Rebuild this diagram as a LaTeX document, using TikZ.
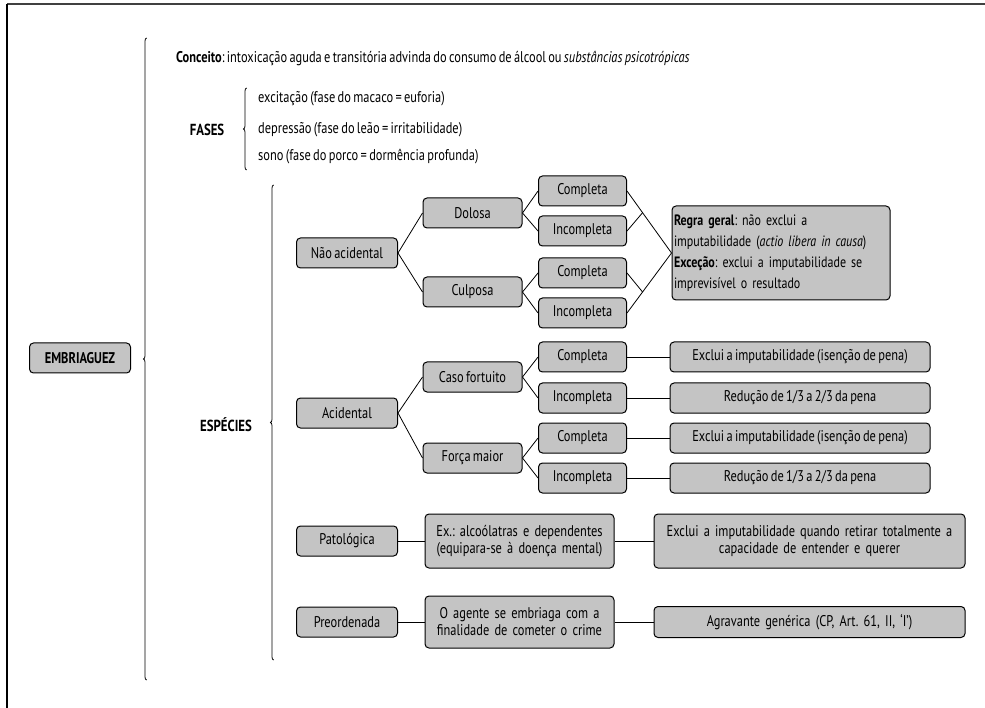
\documentclass[tikz,border=0pt]{standalone}
\usepackage{fontspec}
\setmainfont{PT Sans}[FakeStretch=0.8, WordSpace=0.7]
\usepackage{tikz}
\usetikzlibrary{positioning, calc, decorations.pathreplacing}
\definecolor{boxgray}{HTML}{C4C4C4}
\frenchspacing

\begin{document}
\begin{tikzpicture}[x=1pt, y=-1pt,
  box/.style={draw, line width=1pt, rounded corners=4pt, fill=boxgray, inner sep=2pt,
    minimum height=30pt, font=\fontsize{15.5}{17}\selectfont},
  lvlone/.style={box, minimum width=101pt},
  lvltwo/.style={box, minimum width=99pt},
  lvlthree/.style={box, minimum width=88pt},
  result/.style={box, minimum width=260pt},
  wide/.style={box, text width=#1, align=center},
  plain/.style={font=\fontsize{15.5}{17}\selectfont, inner sep=0pt},
  link/.style={line width=0.8pt},
  curly/.style={line width=0.8pt, decorate, decoration={brace, amplitude=3pt}}]
\useasboundingbox (0,0) rectangle (985,708);
\draw[line width=2pt, black!75] (7,4) -- (985,4);
\draw[line width=2pt] (7,4) -- (7,708);

\node[lvlone, font=\fontsize{15.5}{17}\selectfont\bfseries] (emb) at (80,358) {EMBRIAGUEZ};

\node[plain, anchor=west] (conc) at (176,58) {\textbf{Conceito}: intoxicação aguda e transitória advinda do consumo de álcool ou \textit{substâncias psicotrópicas}};

\node[plain, font=\fontsize{16}{17}\selectfont\bfseries] (fases) at (207,130) {FASES};
\node[plain, anchor=west] (f1) at (258,99) {excitação (fase do macaco = euforia)};
\node[plain, anchor=west] (f2) at (258,130) {depressão (fase do leão = irritabilidade)};
\node[plain, anchor=west] (f3) at (258,157) {sono (fase do porco = dormência profunda)};

\node[plain, font=\fontsize{16}{17}\selectfont\bfseries] (esp) at (226,425) {ESPÉCIES};

\draw[curly] (146.5,680) -- (146.5,38);
\draw[curly] (246.5,170) -- (246.5,88);
\draw[curly] (273.5,660) -- (273.5,185);

\node[lvlone] (nao) at (347,253) {Não acidental};
\node[lvlone] (acid) at (347,413) {Acidental};
\node[lvlone] (pato) at (347,541) {Patológica};
\node[lvlone] (preo) at (347,622) {Preordenada};

\node[lvltwo] (dol) at (472.5,213) {Dolosa};
\node[lvltwo] (cul) at (472.5,292) {Culposa};
\node[lvltwo] (caso) at (472.5,377) {Caso fortuito};
\node[lvltwo] (forca) at (472.5,458) {Força maior};
\node[wide=185pt, minimum height=54pt] (ex) at (519.5,541) {Ex.: alcoólatras e dependentes\\(equipara-se à doença mental)};
\node[wide=185pt, minimum height=52pt] (agente) at (519.5,622) {O agente se embriaga com a\\finalidade de cometer o crime};

\node[lvlthree] (c1) at (582.5,191) {Completa};
\node[lvlthree] (i1) at (582.5,231) {Incompleta};
\node[lvlthree] (c2) at (582.5,273) {Completa};
\node[lvlthree] (i2) at (582.5,313) {Incompleta};
\node[lvlthree] (c3) at (582.5,357) {Completa};
\node[lvlthree] (i3) at (582.5,398) {Incompleta};
\node[lvlthree] (c4) at (582.5,438) {Completa};
\node[lvlthree] (i4) at (582.5,478) {Incompleta};

\node[box, text width=214pt, minimum height=94pt, align=left, font=\fontsize{15}{21}\selectfont] (regra) at (781,253)
  {\textbf{Regra geral}: não exclui a\\imputabilidade (\textit{actio libera in causa})\\\textbf{Exceção}: exclui a imputabilidade se\\imprevisível o resultado};
\node[result] (r3) at (800,357) {Exclui a imputabilidade (isenção de pena)};
\node[result] (r4) at (800,398) {Redução de 1/3 a 2/3 da pena};
\node[result] (r5) at (800,438) {Exclui a imputabilidade (isenção de pena)};
\node[result] (r6) at (800,478) {Redução de 1/3 a 2/3 da pena};
\node[wide=307pt, minimum height=54pt] (patr) at (809.5,541) {Exclui a imputabilidade quando retirar totalmente a\\capacidade de entender e querer};
\node[wide=307pt, minimum height=31pt] (agr) at (809.5,622) {Agravante genérica (CP, Art. 61, II, ‘I’)};

\draw[link] (nao.east) -- (dol.west);
\draw[link] (nao.east) -- (cul.west);
\draw[link] (acid.east) -- (caso.west);
\draw[link] (acid.east) -- (forca.west);
\draw[link] (pato) -- (ex);
\draw[link] (preo) -- (agente);
\draw[link] (dol.east) -- (c1.west);
\draw[link] (dol.east) -- (i1.west);
\draw[link] (cul.east) -- (c2.west);
\draw[link] (cul.east) -- (i2.west);
\draw[link] (caso.east) -- (c3.west);
\draw[link] (caso.east) -- (i3.west);
\draw[link] (forca.east) -- (c4.west);
\draw[link] (forca.east) -- (i4.west);
\draw[link] (c1.east) -- (regra.west);
\draw[link] (i1.east) -- ($(c1.east)!0.35!(regra.west)$);
\draw[link] (i2.east) -- (regra.west);
\draw[link] (c2.east) -- ($(i2.east)!0.35!(regra.west)$);
\draw[link] (c3) -- (r3);
\draw[link] (i3) -- (r4);
\draw[link] (c4) -- (r5);
\draw[link] (i4) -- (r6);
\draw[link] (ex) -- (patr);
\draw[link] (agente) -- (agr);
\end{tikzpicture}
\end{document}
